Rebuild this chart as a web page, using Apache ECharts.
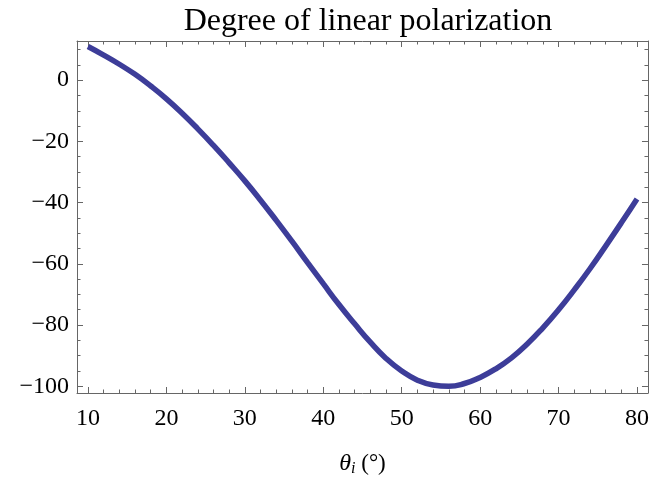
<!DOCTYPE html>
<html>
<head>
<meta charset="utf-8">
<script src="https://cdn.jsdelivr.net/npm/echarts@6/dist/echarts.min.js"></script>
<style>
  html, body { margin: 0; padding: 0; background: #fff; }
  #chart { width: 652px; height: 482px; }
</style>
</head>
<body>
<div id="chart"></div>
<script>
// ---- data ----
var angles = [10, 12, 14, 16, 18, 20, 22, 24, 26, 28, 30, 32, 34, 36, 38, 40, 42, 44, 46, 48, 50,
              52, 54, 56, 58, 60, 62, 64, 66, 68, 70, 72, 74, 76, 78, 80];
var dolp = [11, 8.2, 5.2, 1.9, -1.9, -6.1, -10.8, -15.9, -21.3, -27, -32.9, -39.2, -45.8, -52.6, -59.6, -66.5, -73.3, -79.6, -85.6, -90.9, -95.0,
            -98.0, -99.6, -100, -99.1, -97.1, -94.3, -90.7, -86.2, -80.9, -75.0, -68.5, -61.6, -54.2, -46.6, -38.8];
var xMajorTicks = [10, 20, 30, 40, 50, 60, 70, 80];
var xMinorTicks = [12, 14, 16, 18, 22, 24, 26, 28, 32, 34, 36, 38, 42, 44, 46, 48, 52, 54, 56, 58, 62, 64, 66, 68, 72, 74, 76, 78];
var yMajorTicks = [0, -20, -40, -60, -80, -100];
var yMinorTicks = [10, 5, -5, -10, -15, -25, -30, -35, -45, -50, -55, -65, -70, -75, -85, -90, -95];
var titleText = 'Degree of linear polarization';

var xMin = 8.6, xMax = 81.4, yMin = -102.2, yMax = 12.8;
var frameColor = '#666666';
var serif = '"Liberation Serif", "DejaVu Serif", serif';

var data = angles.map(function (a, i) { return [a, dolp[i]]; });

function fmt(v) { return String(v).replace('-', '\u2212'); }

function xAx(pos, ticks, len, labels, showLine) {
  return {
    type: 'value', position: pos, min: xMin, max: xMax, gridIndex: 0,
    axisLine: { show: showLine, onZero: false, lineStyle: { color: frameColor, width: 1 } },
    axisTick: { show: true, inside: true, length: len, customValues: ticks, lineStyle: { color: frameColor, width: 1 } },
    axisLabel: labels ? { show: true, customValues: ticks, margin: 14, fontFamily: serif, fontSize: 24, color: '#000', formatter: fmt } : { show: false },
    splitLine: { show: false }
  };
}
function yAx(pos, ticks, len, labels, showLine) {
  return {
    type: 'value', position: pos, min: yMin, max: yMax, gridIndex: 0,
    axisLine: { show: showLine, onZero: false, lineStyle: { color: frameColor, width: 1 } },
    axisTick: { show: true, inside: true, length: len, customValues: ticks, lineStyle: { color: frameColor, width: 1 } },
    axisLabel: labels ? { show: true, customValues: ticks, margin: 8, fontFamily: serif, fontSize: 24, color: '#000', formatter: fmt } : { show: false },
    splitLine: { show: false }
  };
}

var xAxes = [
  xAx('bottom', xMajorTicks, 6, true, true),
  xAx('bottom', xMinorTicks, 3.5, false, false),
  xAx('top', xMajorTicks, 6, false, true),
  xAx('top', xMinorTicks, 3.5, false, false)
];
xAxes[0].name = '{t|\u03B8}{s|i}{n| (\u00B0)}';
xAxes[0].nameLocation = 'middle';
xAxes[0].nameGap = 58;
xAxes[0].nameTextStyle = {
  fontFamily: serif, fontSize: 23, color: '#000',
  rich: {
    t: { fontFamily: serif, fontSize: 24, fontStyle: 'italic', color: '#000', lineHeight: 26 },
    s: { fontFamily: serif, fontSize: 16, fontStyle: 'italic', color: '#000', verticalAlign: 'bottom', lineHeight: 16 },
    n: { fontFamily: serif, fontSize: 23, color: '#000', lineHeight: 26 }
  }
};

var yAxes = [
  yAx('left', yMajorTicks, 6, true, true),
  yAx('left', yMinorTicks, 3.5, false, false),
  yAx('right', yMajorTicks, 6, false, true),
  yAx('right', yMinorTicks, 3.5, false, false)
];

var chart = echarts.init(document.getElementById('chart'), null, { renderer: 'canvas' });
chart.setOption({
  animation: false,
  backgroundColor: '#ffffff',
  title: {
    text: titleText, left: 363, top: 1, textAlign: 'center',
    textStyle: { fontFamily: serif, fontSize: 32, fontWeight: 'normal', color: '#000' }
  },
  grid: { left: 77, top: 41, right: 3, bottom: 88.5, containLabel: false },
  xAxis: xAxes,
  yAxis: yAxes,
  series: [{
    type: 'line', xAxisIndex: 0, yAxisIndex: 0,
    data: data, smooth: true, showSymbol: false,
    lineStyle: { color: '#3d3d99', width: 5.5 }
  }]
});
</script>
</body>
</html>
